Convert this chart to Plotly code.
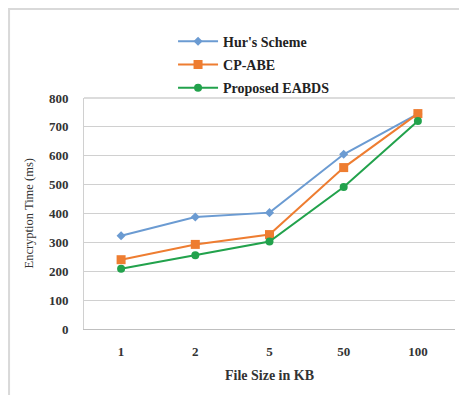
import plotly.graph_objects as go

categories = ["1", "2", "5", "50", "100"]
hur = [323, 388, 403, 605, 745]
cpabe = [240, 293, 327, 559, 746]
eabds = [209, 255, 303, 492, 720]
y_ticks = [0, 100, 200, 300, 400, 500, 600, 700, 800]

FONT = "Liberation Serif"
fig = go.Figure()
series = [
    ("Hur's Scheme", hur, "#6b9bd2", "diamond", 7),
    ("CP-ABE", cpabe, "#ee7d31", "square", 9),
    ("Proposed EABDS", eabds, "#22a24c", "circle", 8),
]
for i, (name, vals, col, sym, sz) in enumerate(series):
    fig.add_trace(go.Scatter(
        x=categories, y=vals, name=name, mode="lines+markers",
        line=dict(color=col, width=2),
        marker=dict(symbol=sym, size=sz, color=col),
        legendgroup=str(i),
    ))

fig.update_layout(
    width=459, height=395,
    margin=dict(l=84, r=4, t=98, b=66, autoexpand=False),
    paper_bgcolor="white", plot_bgcolor="white",
    font=dict(family=FONT, size=13, color="#333333"),
    showlegend=True,
    legend=dict(x=0.377, y=0.935, xref="container", yref="container", xanchor="left", yanchor="top",
                font=dict(family=FONT, size=14, color="#222222", weight="bold"),
                itemwidth=40, tracegroupgap=2, bgcolor="rgba(0,0,0,0)"),
    xaxis=dict(type="category", range=[-0.5, 4.5], showgrid=False, showline=True,
               linecolor="#bfbfbf", linewidth=1,
               ticks="", ticklabelstandoff=10, mirror=False,
               tickfont=dict(family=FONT, size=13, weight="bold"),
               title=dict(text="File Size in KB", font=dict(family=FONT, size=14, weight="bold"), standoff=12)),
    yaxis=dict(range=[0, 800], tickvals=y_ticks, showgrid=True, gridcolor="#d0d0d0", gridwidth=1.3,
               showline=True, linecolor="#d0d0d0", zeroline=False, ticks="", ticklabelstandoff=12,
               tickfont=dict(family=FONT, size=13, weight="bold")),
    annotations=[dict(text="Encryption Time (ms)", xref="paper", yref="paper",
                      x=(28 - 84) / 371, y=0.5, xanchor="center", yanchor="middle",
                      textangle=-90, showarrow=False,
                      font=dict(family=FONT, size=12.5, color="#333333"))],
)
# outer chart border
fig.add_shape(type="rect", xref="paper", yref="paper", x0=-0.202, x1=1.2, y0=-0.5, y1=1.385,
              line=dict(color="#d9d9d9", width=2), layer="below")
fig.add_shape(type="line", xref="paper", yref="paper", x0=0, x1=1, y0=1, y1=1,
              line=dict(color="#d0d0d0", width=1.3))
fig.write_html("out.html")
